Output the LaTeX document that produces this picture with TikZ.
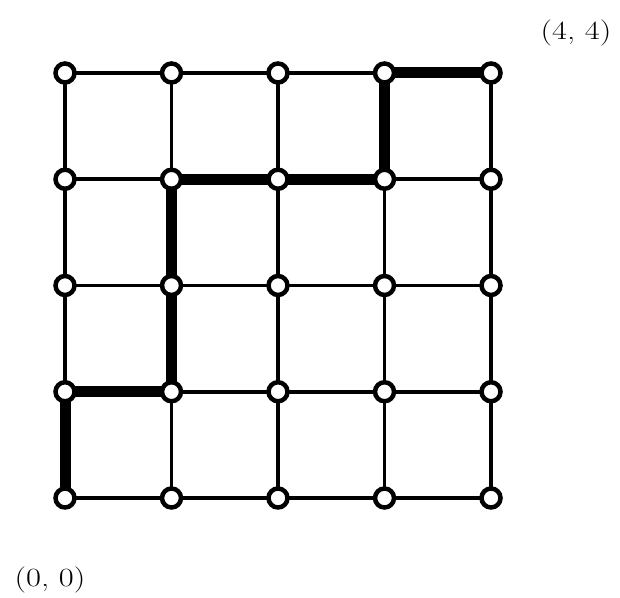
\documentclass[tikz,border=0pt]{standalone}
\usetikzlibrary{backgrounds}
\begin{document}
\begin{tikzpicture}[x=1pt,y=1pt,
  vertex/.style={circle,draw=black,fill=white,line width=4.5pt,minimum size=19pt,inner sep=0pt},
  gridedge/.style={line width=3.5pt},
  pathedge/.style={line width=11pt},
  coordlabel/.style={font=\fontsize{25}{30}\selectfont,inner sep=0pt,xscale=1.3,yscale=1.05}]
\useasboundingbox (0,0) rectangle (620,597);
\foreach \i in {0,...,4}{
  \foreach \j in {0,...,4}{
    \node[vertex] (v\i\j) at (65+106.5*\i, 99+106.25*\j) {};
  }
}
\begin{scope}[on background layer]
\foreach \i in {0,...,4}{
  \foreach \j [evaluate=\j as \k using int(\j+1)] in {0,...,3}{
    \draw[gridedge] (v\i\j.center) -- (v\i\k.center);
    \draw[gridedge] (v\j\i.center) -- (v\k\i.center);
  }
}
\draw[pathedge] (v00.center) -- (v01.center) -- (v11.center) -- (v13.center)
  -- (v33.center) -- (v34.center) -- (v44.center);
\end{scope}
\node[coordlabel] (lab44) at (576,564) {(4, 4)};
\node[coordlabel] (lab00) at (50,17) {(0, 0)};
\end{tikzpicture}
\end{document}
